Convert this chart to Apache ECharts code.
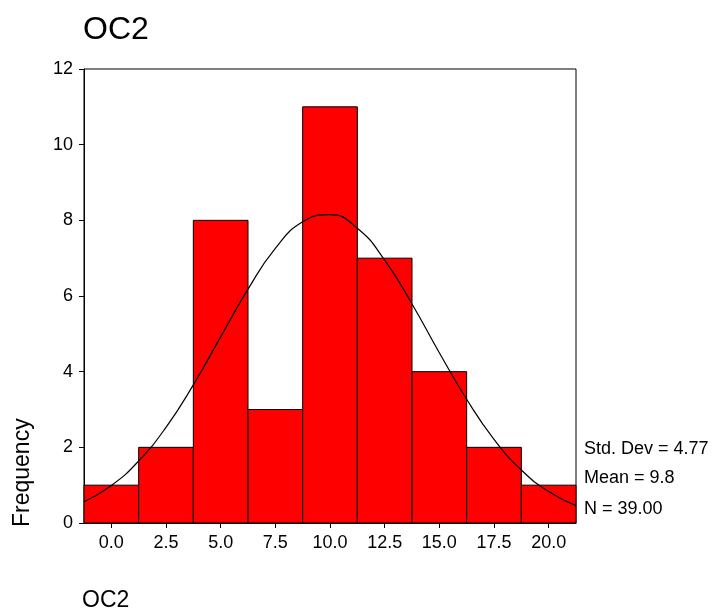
<!DOCTYPE html>
<html>
<head>
<meta charset="utf-8">
<script src="https://cdn.jsdelivr.net/npm/echarts@6/dist/echarts.min.js"></script>
<style>html,body{margin:0;padding:0;background:#fff}#c{width:712px;height:611px}</style>
</head>
<body>
<div id="c"></div>
<script>
// Data
var binCenters = [0, 2.5, 5, 7.5, 10, 12.5, 15, 17.5, 20];
var counts = [1, 2, 8, 3, 11, 7, 4, 2, 1];
var binWidth = 2.5;
var xTicks = [0, 2.5, 5, 7.5, 10, 12.5, 15, 17.5, 20];
var curveX = [-1.25, 0, 1.25, 2.5, 3.75, 5, 6.25, 7.5, 8.75, 10, 11.25, 12.5, 13.75, 15, 16.25, 17.5, 18.75, 20, 21.25];
var curveY = [0.56, 0.99, 1.64, 2.53, 3.65, 4.92, 6.18, 7.26, 7.96, 8.15, 7.79, 6.95, 5.79, 4.50, 3.27, 2.21, 1.40, 0.83, 0.46];
var statLines = ['Std. Dev = 4.77', 'Mean = 9.8', 'N = 39.00'];
var titleText = 'OC2';
var xName = 'OC2';
var yName = 'Frequency';

var FONT = 'Arial, "Liberation Sans", sans-serif';
var chart = echarts.init(document.getElementById('c'), null, {renderer: 'canvas'});

var barData = binCenters.map(function (c, i) { return [c, counts[i]]; });
var curveData = curveX.map(function (x, i) { return [x, curveY[i]]; });

var statGraphics = statLines.map(function (t, i) {
  return {
    type: 'text', left: 584, top: [440, 469, 500][i],
    style: {text: t, fontSize: 18, fontFamily: FONT, fill: '#000'}
  };
});

chart.setOption({
  animation: false,
  backgroundColor: '#fff',
  title: {
    text: titleText, left: 78, top: 9,
    textStyle: {fontSize: 32, fontWeight: 'normal', fontFamily: FONT, color: '#000'}
  },
  grid: {left: 84, top: 69, right: 136, bottom: 88, show: true, borderColor: '#000', borderWidth: 1, backgroundColor: 'transparent'},
  xAxis: {
    type: 'value', min: -1.25, max: 21.25,
    splitLine: {show: false},
    axisLine: {show: true, onZero: false, lineStyle: {color: '#000', width: 1}},
    axisTick: {show: true, length: 5, inside: false, customValues: xTicks, lineStyle: {color: '#000'}},
    axisLabel: {
      customValues: xTicks, margin: 11, fontSize: 18, fontFamily: FONT, color: '#000',
      formatter: function (v) { return v.toFixed(1); }
    }
  },
  yAxis: {
    type: 'value', min: 0, max: 12, interval: 2,
    splitLine: {show: false},
    axisLine: {show: true, onZero: false, lineStyle: {color: '#000', width: 1}},
    axisTick: {show: true, length: 5, lineStyle: {color: '#000'}},
    axisLabel: {margin: 11, fontSize: 18, fontFamily: FONT, color: '#000'}
  },
  series: [
    {
      type: 'custom',
      data: barData,
      renderItem: function (params, api) {
        var c = api.value(0), v = api.value(1);
        var p0 = api.coord([c - binWidth / 2, v]);
        var p1 = api.coord([c + binWidth / 2, 0]);
        return {
          type: 'rect',
          shape: {x: p0[0], y: p0[1], width: p1[0] - p0[0], height: p1[1] - p0[1]},
          style: {fill: '#ff0000', stroke: '#000', lineWidth: 1}
        };
      },
      z: 2
    },
    {
      type: 'line', data: curveData, smooth: true, symbol: 'none',
      lineStyle: {color: '#000', width: 1.2}, z: 3
    }
  ],
  graphic: [
    {
      type: 'text', left: 82, top: 589,
      style: {text: xName, fontSize: 23, fontFamily: FONT, fill: '#000'}
    },
    {
      type: 'text', x: 11, y: 527, rotation: Math.PI / 2,
      style: {text: yName, fontSize: 23, fontFamily: FONT, fill: '#000'}
    }
  ].concat(statGraphics)
});
</script>
</body>
</html>
